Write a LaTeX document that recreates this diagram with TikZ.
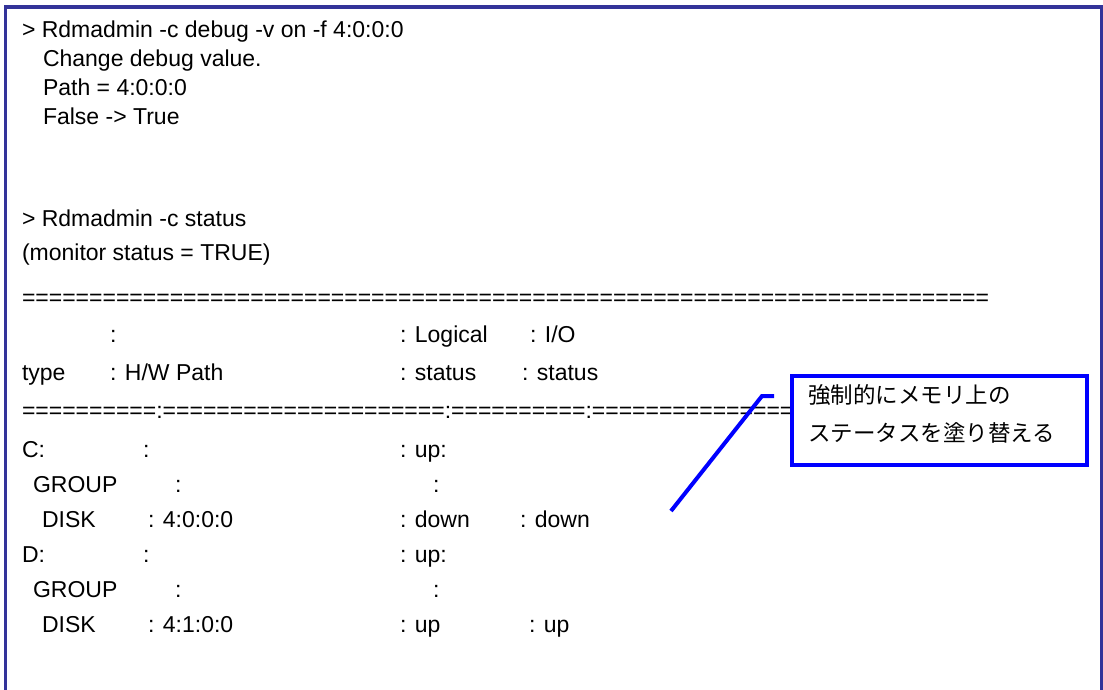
\documentclass[tikz,border=0pt]{standalone}
\usepackage{fontspec}
\setmainfont{Liberation Sans}
\newfontfamily\jpfont{Noto Sans CJK JP}
\definecolor{framecol}{RGB}{51,51,153}
\definecolor{noteblue}{RGB}{0,0,255}
\begin{document}
\begin{tikzpicture}[x=1pt,y=-1pt,
  txt/.style={anchor=base west, inner sep=0pt, outer sep=0pt, font=\fontsize{23}{28}\selectfont},
  jptxt/.style={anchor=base west, inner sep=0pt, outer sep=0pt, font=\jpfont\fontsize{22.5}{27}\selectfont},
  frameline/.style={draw=framecol, line width=3.5pt},
  notebox/.style={draw=noteblue, line width=4pt, fill=white, inner sep=0pt, minimum width=295pt, minimum height=89pt, anchor=north west},
  leader/.style={draw=noteblue, line width=4pt}]
\path[use as bounding box] (0,0) rectangle (1103,689);
\clip (0,0) rectangle (1103,689);
\fill[white] (0,0) rectangle (1103,689);
% frame (open at the bottom)
\draw[frameline] (5.5,720) -- (5.5,7) -- (1101.5,7) -- (1101.5,720);
% text lines
\node[txt] (r0) at (22,37) {> Rdmadmin -c debug -v on -f 4:0:0:0};
\node[txt] (r1) at (43,66) {Change debug value.};
\node[txt] (r2) at (43,95) {Path = 4:0:0:0};
\node[txt] (r3) at (43,124) {False -> True};
\node[txt] (r6) at (22,226) {> Rdmadmin -c status};
\node[txt] (r7) at (22,260) {(monitor status = TRUE)};
\node[txt] (r8) at (22,305) {========================================================================};
\node[txt] (r9b) at (110,342) {:};
\node[txt] (r9c) at (400,342) {: Logical};
\node[txt] (r9d) at (530,342) {: I/O};
\node[txt] (r10a) at (22,380) {type};
\node[txt] (r10b) at (110,380) {: H/W Path};
\node[txt] (r10c) at (400,380) {: status};
\node[txt] (r10d) at (522,380) {: status};
\node[txt] (r11) at (22,418) {==========:=====================:==========:=================};
\node[txt] (r12a) at (22,457) {C:};
\node[txt] (r12b) at (143,457) {:};
\node[txt] (r12c) at (400,457) {: up:};
\node[txt] (r13a) at (33,492) {GROUP};
\node[txt] (r13b) at (175,492) {:};
\node[txt] (r13c) at (433,492) {:};
\node[txt] (r14a) at (42,527) {DISK};
\node[txt] (r14b) at (148,527) {: 4:0:0:0};
\node[txt] (r14c) at (400,527) {: down};
\node[txt] (r14d) at (520,527) {: down};
\node[txt] (r15a) at (22,562) {D:};
\node[txt] (r15b) at (143,562) {:};
\node[txt] (r15c) at (400,562) {: up:};
\node[txt] (r16a) at (33,597) {GROUP};
\node[txt] (r16b) at (175,597) {:};
\node[txt] (r16c) at (433,597) {:};
\node[txt] (r17a) at (42,632) {DISK};
\node[txt] (r17b) at (148,632) {: 4:1:0:0};
\node[txt] (r17c) at (400,632) {: up};
\node[txt] (r17d) at (529,632) {: up};
% callout
\node[notebox] (note) at (790,374) {};
\node[jptxt] (note1) at (808,403) {強制的にメモリ上の};
\node[jptxt] (note2) at (808,441) {ステータスを塗り替える};
\coordinate (lend) at (671,511);
\coordinate (lbend) at (762,396);
\coordinate (ltip) at (774,396);
\draw[leader] (lend) -- (lbend) -- (ltip);
\end{tikzpicture}
\end{document}
